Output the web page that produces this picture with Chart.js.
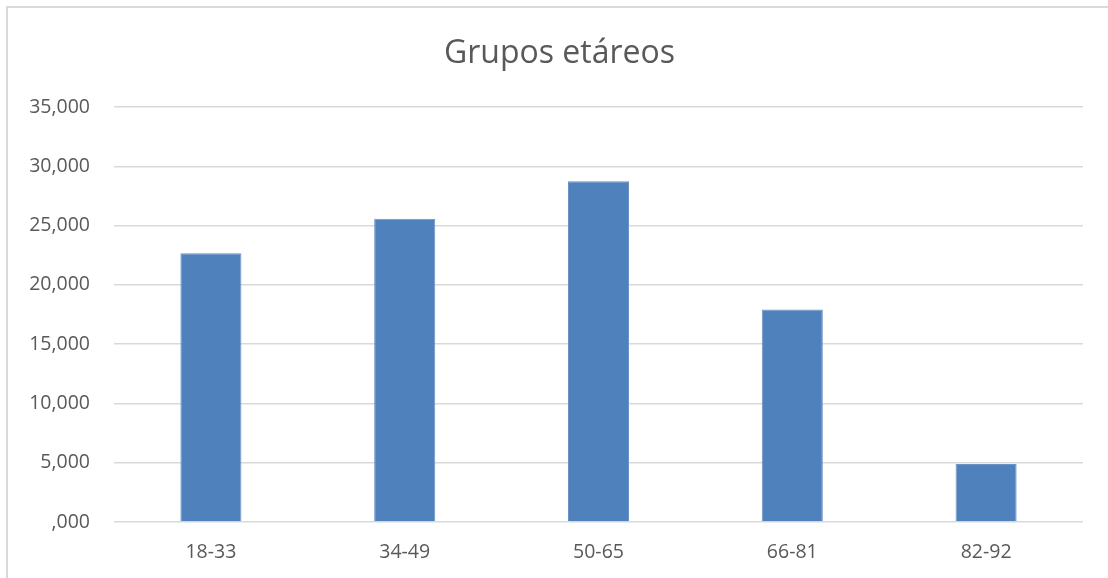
<!DOCTYPE html>
<html>
<head>
<meta charset="utf-8">
<script src="https://cdn.jsdelivr.net/npm/chart.js@4"></script>
<style>
  html, body { margin: 0; padding: 0; background: #fff; }
  #box { position: absolute; left: 0; top: 0; width: 1108px; height: 578px; }
  #frame { position: absolute; left: 6px; top: 6px; width: 1200px; height: 700px;
           border-top: 2px solid #d9d9d9; border-left: 2px solid #d9d9d9; pointer-events: none; }
</style>
</head>
<body>
<div id="box"><canvas id="barChart" width="1108" height="578"></canvas></div>
<div id="frame"></div>
<script>
// datos
const categorias = ['18-33', '34-49', '50-65', '66-81', '82-92'];
const valores = [22660, 25570, 28730, 17930, 4900];
const tituloTexto = 'Grupos etáreos';

const fuente = "'Open Sans', 'Liberation Sans', sans-serif";

function createBarChart() {
    const ctx = document.getElementById('barChart').getContext('2d');
    window.myBarChart = new Chart(ctx, {
        type: 'bar',
        data: {
            labels: categorias,
            datasets: [{
                data: valores,
                backgroundColor: '#4f81bd',
                borderColor: '#6b93c6',
                borderWidth: 1,
                barPercentage: 0.315,
                categoryPercentage: 1
            }]
        },
        options: {
            responsive: false,
            animation: false,
            layout: { padding: { left: 11, right: 0, top: 0, bottom: 0 } },
            plugins: {
                legend: { display: false },
                tooltip: { enabled: false },
                title: {
                    display: true,
                    text: tituloTexto,
                    color: '#595959',
                    font: { family: fuente, size: 32, weight: 'normal' },
                    padding: { top: 35, bottom: 33.6 }
                }
            },
            scales: {
                x: {
                    grid: { display: false },
                    border: { display: false },
                    ticks: { color: '#595959', font: { family: fuente, size: 19.5 }, padding: 11 },
                    afterFit: (scale) => { scale.height = 56; }
                },
                y: {
                    min: 0,
                    max: 35000,
                    grid: { color: '#d9d9d9', lineWidth: 1.5, drawTicks: false },
                    border: { display: false },
                    ticks: {
                        stepSize: 5000,
                        color: '#595959',
                        font: { family: fuente, size: 19.5 },
                        padding: 24,
                        callback: (v) => v === 0 ? ',000' : v.toLocaleString('en-US')
                    },
                    afterFit: (scale) => { scale.width = 103; }
                },
                // eje vacío a la derecha, solo reserva el margen
                yRight: {
                    position: 'right',
                    grid: { display: false },
                    border: { display: false },
                    ticks: { display: false },
                    afterFit: (scale) => { scale.width = 25; }
                }
            }
        }
    });
}

createBarChart();
</script>
</body>
</html>
